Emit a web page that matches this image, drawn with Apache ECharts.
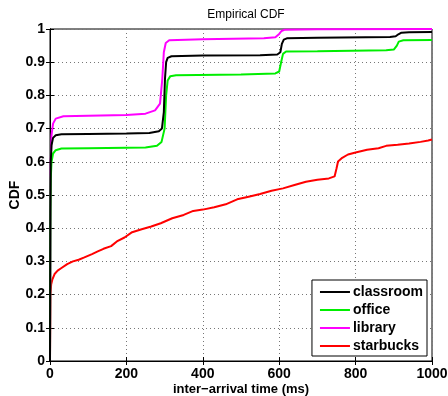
<!DOCTYPE html>
<html>
<head>
<meta charset="utf-8">
<script src="https://cdn.jsdelivr.net/npm/echarts@6/dist/echarts.min.js"></script>
<style>
  html, body { margin: 0; padding: 0; background: #fff; }
  #chart { width: 448px; height: 396px; }
</style>
</head>
<body>
<div id="chart"></div>
<script>
// x ticks / y ticks
const xTicks = [0, 200, 400, 600, 800, 1000]
const yTicks = [0, 0.1, 0.2, 0.3, 0.4, 0.5, 0.6, 0.7, 0.8, 0.9, 1]

// [ms, cdf] pairs
const classroom = [
    [0, 0], [1, 0.45], [2, 0.6], [4, 0.65], [8, 0.672], [15, 0.68], [30, 0.683],
    [100, 0.684], [200, 0.685], [260, 0.687], [285, 0.692], [293, 0.7], [298, 0.75],
    [301, 0.85], [304, 0.9], [308, 0.913], [318, 0.918], [400, 0.92], [550, 0.921],
    [595, 0.923], [603, 0.93], [607, 0.955], [612, 0.968], [620, 0.972], [700, 0.974],
    [890, 0.976], [905, 0.978], [912, 0.984], [920, 0.989], [940, 0.99], [1000, 0.991]
]
const office = [
    [0, 0], [1, 0.4], [2, 0.55], [4, 0.6], [8, 0.625], [15, 0.635], [30, 0.64],
    [100, 0.641], [250, 0.643], [280, 0.648], [292, 0.66], [300, 0.7], [304, 0.8],
    [308, 0.845], [315, 0.858], [330, 0.861], [500, 0.863], [590, 0.866], [600, 0.872],
    [605, 0.9], [610, 0.925], [618, 0.932], [700, 0.933], [880, 0.936], [900, 0.938],
    [908, 0.95], [913, 0.962], [925, 0.966], [1000, 0.967]
]
const library = [
    [0, 0], [1, 0.4], [2, 0.6], [4, 0.68], [8, 0.715], [15, 0.73], [35, 0.737],
    [100, 0.739], [200, 0.741], [250, 0.745], [275, 0.755], [288, 0.775], [294, 0.85],
    [298, 0.93], [303, 0.958], [312, 0.966], [400, 0.969], [560, 0.972], [590, 0.975],
    [600, 0.985], [606, 0.994], [615, 0.998], [700, 0.999], [1000, 1]
]
const starbucks = [
    [0, 0], [0.5, 0.1], [1, 0.2], [3, 0.23], [6, 0.245], [12, 0.262], [20, 0.272],
    [30, 0.28], [45, 0.292], [60, 0.3], [75, 0.305], [90, 0.312], [110, 0.322],
    [125, 0.33], [140, 0.338], [160, 0.346], [175, 0.36], [195, 0.372], [215, 0.388],
    [240, 0.397], [265, 0.405], [290, 0.415], [320, 0.43], [350, 0.44], [375, 0.452],
    [400, 0.456], [430, 0.463], [460, 0.472], [490, 0.487], [520, 0.495], [550, 0.503],
    [580, 0.513], [610, 0.52], [640, 0.53], [670, 0.54], [700, 0.546], [730, 0.55],
    [745, 0.556], [750, 0.58], [754, 0.601], [765, 0.612], [780, 0.622], [800, 0.628],
    [830, 0.636], [860, 0.641], [880, 0.648], [910, 0.651], [940, 0.655], [970, 0.66],
    [990, 0.664], [1000, 0.667]
]

const font = 'Liberation Sans'
const gridLine = { show: true, lineStyle: { type: [1, 3], color: '#777', width: 1 } }

function line(name, data, color) {
    return {
        name: name,
        type: 'line',
        data: data,
        symbol: 'none',
        lineStyle: { color: color, width: 2 },
        itemStyle: { color: color },
        animation: false
    }
}

const chart = echarts.init(document.getElementById('chart'))
chart.setOption({
    animation: false,
    title: {
        text: 'Empirical CDF',
        left: 241,
        top: 4,
        textAlign: 'center',
        textStyle: { fontFamily: font, fontSize: 12, fontWeight: 'normal', color: '#000' }
    },
    grid: {
        left: 50, right: 16, top: 29, bottom: 35,
        containLabel: false,
        outerBoundsMode: 'none',
        show: true, borderColor: '#000', borderWidth: 1
    },
    legend: {
        orient: 'vertical',
        right: 21,
        bottom: 40,
        backgroundColor: '#fff',
        borderColor: '#000',
        borderWidth: 1,
        padding: [5, 4, 3, 8],
        itemGap: 4,
        icon: 'rect',
        itemWidth: 30,
        itemHeight: 2,
        textStyle: {
            fontFamily: font, fontSize: 14, fontWeight: 'bold', color: '#000',
            lineHeight: 14, padding: [0, 0, 0, -2]
        },
        data: ['classroom', 'office', 'library', 'starbucks']
    },
    xAxis: [{
        type: 'value',
        min: 0, max: 1000, interval: 200,
        name: 'inter\u2212arrival time (ms)',
        nameLocation: 'middle',
        nameGap: 22,
        nameMoveOverlap: false,
        nameTextStyle: { fontFamily: font, fontSize: 13, fontWeight: 'bold', color: '#000' },
        axisLine: { show: true, lineStyle: { color: '#000' } },
        axisTick: { show: true, inside: true, length: 4, lineStyle: { color: '#000' } },
        axisLabel: {
            fontFamily: font, fontSize: 14, fontWeight: 'bold', color: '#000', margin: 6,
            formatter: v => xTicks.includes(v) ? String(v) : ''
        },
        splitLine: gridLine
    }, {
        type: 'value', position: 'top',
        min: 0, max: 1000, interval: 200,
        axisLine: { show: true, lineStyle: { color: '#000' } },
        axisTick: { show: true, inside: true, length: 4, lineStyle: { color: '#000' } },
        axisLabel: { show: false },
        splitLine: { show: false }
    }],
    yAxis: [{
        type: 'value',
        min: 0, max: 1, interval: 0.1,
        name: 'CDF',
        nameLocation: 'middle',
        nameGap: 28,
        nameMoveOverlap: false,
        nameTextStyle: { fontFamily: font, fontSize: 14, fontWeight: 'bold', color: '#000' },
        axisLine: { show: true, lineStyle: { color: '#000' } },
        axisTick: { show: true, inside: true, length: 4, lineStyle: { color: '#000' } },
        axisLabel: {
            fontFamily: font, fontSize: 14, fontWeight: 'bold', color: '#000', margin: 5,
            formatter: v => {
                const t = yTicks.find(y => Math.abs(y - v) < 1e-6)
                return t === undefined ? '' : String(t)
            }
        },
        splitLine: gridLine
    }, {
        type: 'value', position: 'right',
        min: 0, max: 1, interval: 0.1,
        axisLine: { show: true, lineStyle: { color: '#000' } },
        axisTick: { show: true, inside: true, length: 4, lineStyle: { color: '#000' } },
        axisLabel: { show: false },
        splitLine: { show: false }
    }],
    series: [
        line('starbucks', starbucks, '#ff0000'),
        line('library', library, '#ff00ff'),
        line('office', office, '#00ee00'),
        line('classroom', classroom, '#000000')
    ]
})
</script>
</body>
</html>
